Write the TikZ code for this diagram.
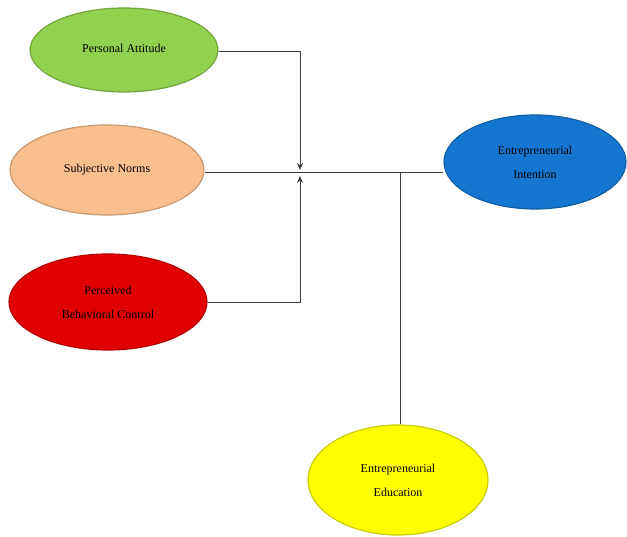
\documentclass[tikz,border=0pt]{standalone}
\usepackage{fontspec}
\setmainfont{Liberation Serif}
\usetikzlibrary{shapes.geometric,arrows.meta}
\definecolor{pagreen}{RGB}{146,208,80}
\definecolor{snpeach}{RGB}{250,191,143}
\definecolor{pbcred}{RGB}{224,0,0}
\definecolor{eiblue}{RGB}{20,118,208}
\definecolor{eyellow}{RGB}{255,255,0}
\definecolor{linegray}{RGB}{60,60,60}
\tikzset{
  oval/.style={ellipse, draw=#1!80!black, line width=1.2pt, fill=#1, inner sep=0pt, align=center,
    font=\fontsize{12}{24}\selectfont},
  conn/.style={draw=linegray, line width=1pt},
  arr/.style={conn, -{Stealth[length=7pt,width=6pt]}}
}
\begin{document}
\begin{tikzpicture}[x=1pt,y=-1pt]
\useasboundingbox (0,0) rectangle (627,537);
\node[oval=pagreen, minimum width=188pt, minimum height=84pt] (pa) at (124,50) {\raisebox{4pt}{Personal Attitude}};
\node[oval=snpeach, minimum width=194pt, minimum height=90pt] (sn) at (107,170) {\raisebox{2pt}{Subjective Norms}};
\node[oval=pbcred, minimum width=198pt, minimum height=96pt] (pbc) at (108,302) {Perceived\\Behavioral Control};
\node[oval=eiblue, minimum width=182pt, minimum height=94pt] (ei) at (535,162) {Entrepreneurial\\Intention};
\node[oval=eyellow, minimum width=180pt, minimum height=110pt] (ee) at (398,480) {Entrepreneurial\\Education};
\coordinate (j) at (300,173);
\coordinate (jt) at (300,170);
\coordinate (jb) at (300,176);
\coordinate (k) at (400,173);
\draw[arr] (pa.east |- 0,52) -| (jt);
\draw[arr] (pbc.east |- 0,303) -| (jb);
\draw[conn] (sn.east |- j) -- (ei.west |- j);
\draw[conn] (ee.north -| k) -- (k);
\end{tikzpicture}
\end{document}
